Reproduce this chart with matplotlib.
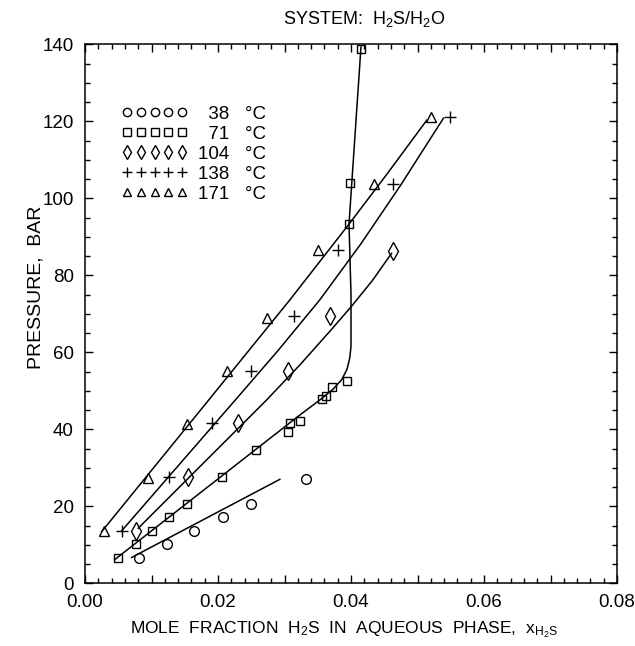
import matplotlib
matplotlib.use("Agg")
import matplotlib.pyplot as plt
from matplotlib.lines import Line2D
from matplotlib.ticker import MultipleLocator, FuncFormatter

plt.rcParams["font.family"] = ["Liberation Sans", "DejaVu Sans"]
plt.rcParams["mathtext.fontset"] = "custom"
plt.rcParams["mathtext.rm"] = "Liberation Sans"
plt.rcParams["mathtext.it"] = "Liberation Sans"

# measured points (mole fraction H2S, pressure in bar)
x38 = [0.0081, 0.0123, 0.0164, 0.0207, 0.0249, 0.0332]
p38 = [6.7, 10.2, 13.7, 17.1, 20.7, 27.0]

x71 = [0.0049, 0.0076, 0.0101, 0.0127, 0.0153, 0.0206, 0.0257, 0.0306, 0.0309,
       0.0324, 0.0357, 0.0362, 0.0372, 0.0394, 0.0397, 0.0398, 0.0415]
p71 = [6.7, 10.2, 13.7, 17.1, 20.6, 27.6, 34.6, 39.4, 41.6,
       42.2, 47.9, 48.6, 50.9, 52.6, 93.3, 104.1, 138.8]

x104 = [0.0077, 0.0155, 0.0230, 0.0305, 0.0369, 0.0463]
p104 = [13.7, 27.6, 41.7, 55.2, 69.4, 86.4]

x138 = [0.0056, 0.0126, 0.0191, 0.0250, 0.0315, 0.0381, 0.0463, 0.0549]
p138 = [13.7, 27.6, 41.7, 55.2, 69.4, 86.6, 103.7, 121.0]

x171 = [0.0029, 0.0094, 0.0154, 0.0214, 0.0274, 0.0351, 0.0434, 0.0520]
p171 = [13.6, 27.3, 41.4, 55.2, 69.0, 86.6, 103.7, 121.0]

# correlation curves
cx38 = [0.0070, 0.0293]
cp38 = [6.7, 27.0]
cx71 = [0.0045, 0.0323, 0.0353, 0.0373, 0.0386, 0.0394, 0.0398, 0.0400, 0.0400,
        0.0397, 0.0415]
cp71 = [6.2, 43.7, 47.6, 50.4, 52.9, 55.6, 58.4, 61.5, 75.0, 93.3, 139.3]
cx104 = [0.0080, 0.0273, 0.0323, 0.0370, 0.0401, 0.0432, 0.0461]
cp104 = [14.3, 47.6, 56.7, 65.8, 72.0, 78.6, 85.7]
cx138 = [0.0055, 0.0226, 0.0290, 0.0353, 0.0415, 0.0475, 0.0539]
cp138 = [13.6, 47.6, 60.4, 73.6, 88.2, 103.5, 120.8]
cx171 = [0.0025, 0.0186, 0.0308, 0.0397, 0.0455, 0.0514]
cp171 = [13.4, 47.6, 73.6, 93.3, 106.5, 120.3]

temps = ["\u200738   °C", "\u200771   °C", "104   °C", "138   °C", "171   °C"]

fig = plt.figure(figsize=(6.35, 6.46), dpi=100)
ax = fig.add_axes([85 / 635, 62.7 / 646, 532 / 635, 539 / 646])

ms = dict(color="black", linestyle="none", markerfacecolor="none",
          markeredgecolor="black", markeredgewidth=1.0)
ax.plot(x38, p38, marker="o", markersize=7, **ms)
ax.plot(x71, p71, marker="s", markersize=6, **ms)
ax.plot(x104, p104, marker="d", markersize=9, **ms)
ax.plot(x138, p138, marker="+", markersize=9, **ms)
ax.plot(x171, p171, marker="^", markersize=6.5, **ms)

for cx, cp in [(cx38, cp38), (cx71, cp71), (cx104, cp104), (cx138, cp138), (cx171, cp171)]:
    ax.plot(cx, cp, color="black", linewidth=1.1)

ax.set_xlim(0, 0.08)
ax.set_ylim(0, 140)
ax.xaxis.set_major_locator(MultipleLocator(0.01))
ax.xaxis.set_minor_locator(MultipleLocator(0.002))
ax.xaxis.set_major_formatter(FuncFormatter(
    lambda v, pos: f"{v:.2f}" if round(v * 100) % 2 == 0 else ""))
ax.yaxis.set_major_locator(MultipleLocator(20))
ax.yaxis.set_minor_locator(MultipleLocator(5))
ax.tick_params(which="both", direction="in", top=True, right=True,
               labelsize=13.5, width=1.0)
ax.tick_params(which="major", length=6, pad=8)
ax.tick_params(which="minor", length=3.5)
for s in ax.spines.values():
    s.set_linewidth(1.1)

handles = [
    Line2D([], [], marker="o", markersize=6, **ms),
    Line2D([], [], marker="s", markersize=5.5, **ms),
    Line2D([], [], marker="d", markersize=7.5, **ms),
    Line2D([], [], marker="+", markersize=7.5, **ms),
    Line2D([], [], marker="^", markersize=5.5, **ms),
]
ax.legend(handles, temps, loc="upper left", bbox_to_anchor=(0.055, 0.9),
          frameon=False, numpoints=5, handlelength=3.5, handletextpad=0.55,
          labelspacing=0.15, fontsize=13.5, borderaxespad=0)

ax.set_ylabel("PRESSURE,  BAR", fontsize=14)
ax.yaxis.set_label_coords(-0.092, 0.55)
ax.yaxis.label.set_va("center")
ax.set_xlabel(r"MOLE  FRACTION  H$_2$S  IN  AQUEOUS  PHASE,  x$_{\mathregular{H_2S}}$",
              fontsize=12.5)
ax.xaxis.set_label_coords(0.486, -0.087)
ax.xaxis.label.set_va("center")

fig.text(364 / 635, 1 - 19 / 646, r"SYSTEM:  H$_2$S/H$_2$O", fontsize=13,
         ha="center", va="center")

fig.savefig("out.png", dpi=100)
